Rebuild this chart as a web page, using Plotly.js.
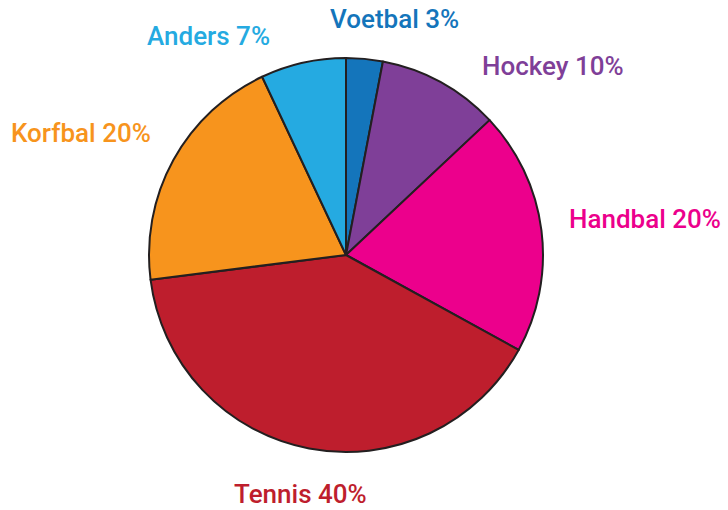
<!DOCTYPE html>
<html><head><meta charset="utf-8">
<script src="https://cdn.plot.ly/plotly-3.0.1.min.js"></script>
<style>html,body{margin:0;padding:0;background:#fff}</style>
</head><body><div id="chart" style="width:728px;height:510px"></div>
<script>
const categories = ["Voetbal", "Hockey", "Handbal", "Tennis", "Korfbal", "Anders"];
const values = [3, 10, 20, 40, 20, 7];
const colors = ["#1475bb", "#7f3f98", "#ec008c", "#be1e2d", "#f7941d", "#25aae1"];
const labelPos = [[394, 19], [553, 66], [645, 219], [300, 494], [81, 133], [209, 36]];

const W = 728, H = 510;
const annotations = categories.map((c, i) => ({
  x: labelPos[i][0] / W, y: 1 - labelPos[i][1] / H, xref: "paper", yref: "paper",
  text: c + " " + values[i] + "%", showarrow: false,
  xanchor: "center", yanchor: "middle",
  font: {family: "Roboto, 'Open Sans', sans-serif", size: 26, weight: 500, color: colors[i]}
}));

Plotly.newPlot("chart", [{
  type: "pie", labels: categories, values: values, sort: false, direction: "clockwise",
  rotation: 0, textinfo: "none", hoverinfo: "label+percent",
  marker: {colors: colors, line: {color: "#231f20", width: 2}},
  domain: {x: [(346 - 197) / W, (346 + 197) / W], y: [1 - 452 / H, 1 - 58 / H]}
}], {
  width: W, height: H, margin: {l: 0, r: 0, t: 0, b: 0}, showlegend: false,
  paper_bgcolor: "#fff", annotations: annotations
}, {staticPlot: true});
</script></body></html>
